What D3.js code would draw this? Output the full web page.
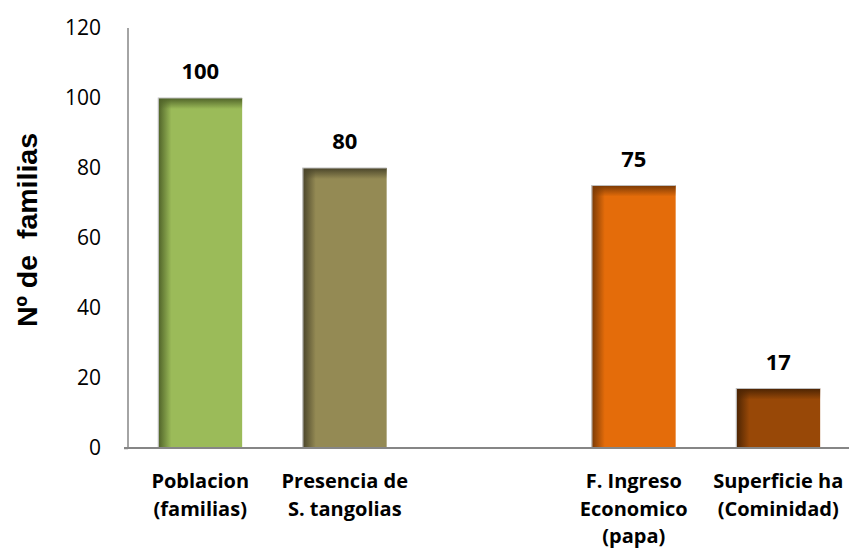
<!DOCTYPE html>
<html>
<head>
<meta charset="utf-8">
<script src="https://cdn.jsdelivr.net/npm/d3@7"></script>
<style>
  html, body { margin: 0; padding: 0; background: #fff; }
  svg { display: block; }
</style>
</head>
<body>
<svg id="chart" width="849" height="551"></svg>
<script>
// Chart data
const categories = ["Poblacion (familias)", "Presencia de S. tangolias", "", "F. Ingreso Economico (papa)", "Superficie ha (Cominidad)"];
const labelLines = [["Poblacion", "(familias)"], ["Presencia de", "S. tangolias"], [], ["F. Ingreso", "Economico", "(papa)"], ["Superficie ha", "(Cominidad)"]];
const values = [100, 80, null, 75, 17];
const barColors = ["#9BBB59", "#948A54", null, "#E46C0A", "#984807"];
const edgeColors = ["#4F6228", "#4A452A", null, "#7A3A05", "#4C2403"];
const yTicks = [0, 20, 40, 60, 80, 100, 120];

const svg = d3.select("#chart");
const margin = { left: 128, right: 0, top: 28, bottom: 103 };
const W = 849, H = 551;

const x = d3.scaleBand().domain(categories.map((c, i) => i)).range([margin.left, margin.left + 5 * 144.5]).paddingInner(0.42).paddingOuter(0.21);
const y = d3.scaleLinear().domain([0, 120]).range([H - margin.bottom, margin.top]);

const defs = svg.append("defs");
values.forEach((v, i) => {
  if (v == null) return;
  const gh = defs.append("linearGradient").attr("id", "gl" + i).attr("x1", 0).attr("x2", 1).attr("y1", 0).attr("y2", 0);
  gh.append("stop").attr("offset", 0).attr("stop-color", edgeColors[i]).attr("stop-opacity", 1);
  gh.append("stop").attr("offset", 1).attr("stop-color", edgeColors[i]).attr("stop-opacity", 0);
  const gv = defs.append("linearGradient").attr("id", "gt" + i).attr("x1", 0).attr("x2", 0).attr("y1", 0).attr("y2", 1);
  gv.append("stop").attr("offset", 0).attr("stop-color", edgeColors[i]).attr("stop-opacity", 1);
  gv.append("stop").attr("offset", 1).attr("stop-color", edgeColors[i]).attr("stop-opacity", 0);
});

// Y axis
const yAxis = d3.axisLeft(y).tickValues(yTicks).tickSize(4).tickPadding(23);
const gy = svg.append("g").attr("transform", `translate(${margin.left},0)`).call(yAxis);
gy.select(".domain").attr("stroke", "#868686").attr("stroke-width", 1.5).attr("d", `M0,${y(120)}V${y(0)}`);
gy.selectAll(".tick line").attr("stroke", "#868686").attr("stroke-width", 1.5).attr("opacity", d => d === 0 ? 1 : 0);
gy.selectAll(".tick text").attr("font-family", "'Open Sans', Lato, sans-serif").attr("font-size", 21).attr("fill", "#000");

// Bars
const bars = svg.append("g");
values.forEach((v, i) => {
  if (v == null) return;
  const bx = x(i), bw = x.bandwidth(), by = y(v), bh = y(0) - y(v);
  const g = bars.append("g");
  g.append("rect").attr("x", bx).attr("y", by).attr("width", bw).attr("height", bh).attr("fill", barColors[i]);
  g.append("rect").attr("x", bx).attr("y", by).attr("width", Math.min(13, bw)).attr("height", bh).attr("fill", `url(#gl${i})`);
  g.append("rect").attr("x", bx).attr("y", by).attr("width", bw).attr("height", Math.min(11, bh)).attr("fill", `url(#gt${i})`);
  g.append("path").attr("d", `M${bx},${y(0)}V${by}H${bx + bw}`).attr("fill", "none").attr("stroke", "#BFBFBF").attr("stroke-width", 1.2);
  svg.append("text").attr("x", bx + bw / 2).attr("y", by - 19).attr("text-anchor", "middle")
    .attr("font-family", "'Open Sans', Lato, sans-serif").attr("font-weight", "bold").attr("font-size", 22)
    .text(v);
});

// Baseline
svg.append("line").attr("x1", margin.left - 4).attr("x2", W).attr("y1", y(0)).attr("y2", y(0))
  .attr("stroke", "#868686").attr("stroke-width", 2);

// Category labels
labelLines.forEach((lines, i) => {
  const t = svg.append("text").attr("text-anchor", "middle")
    .attr("font-family", "'Open Sans', Lato, sans-serif").attr("font-weight", "bold").attr("font-size", 20);
  lines.forEach((ln, j) => {
    t.append("tspan").attr("x", x(i) + x.bandwidth() / 2).attr("y", 488 + j * 27.7).text(ln);
  });
});

// Y axis title
svg.append("text").attr("transform", `translate(37,230) rotate(-90)`).attr("text-anchor", "middle")
  .attr("font-family", "Arial, 'Liberation Sans', sans-serif").attr("font-weight", "bold").attr("font-size", 28.5)
  .attr("xml:space", "preserve").style("white-space", "pre")
  .text("Nº de  familias");
</script>
</body>
</html>
